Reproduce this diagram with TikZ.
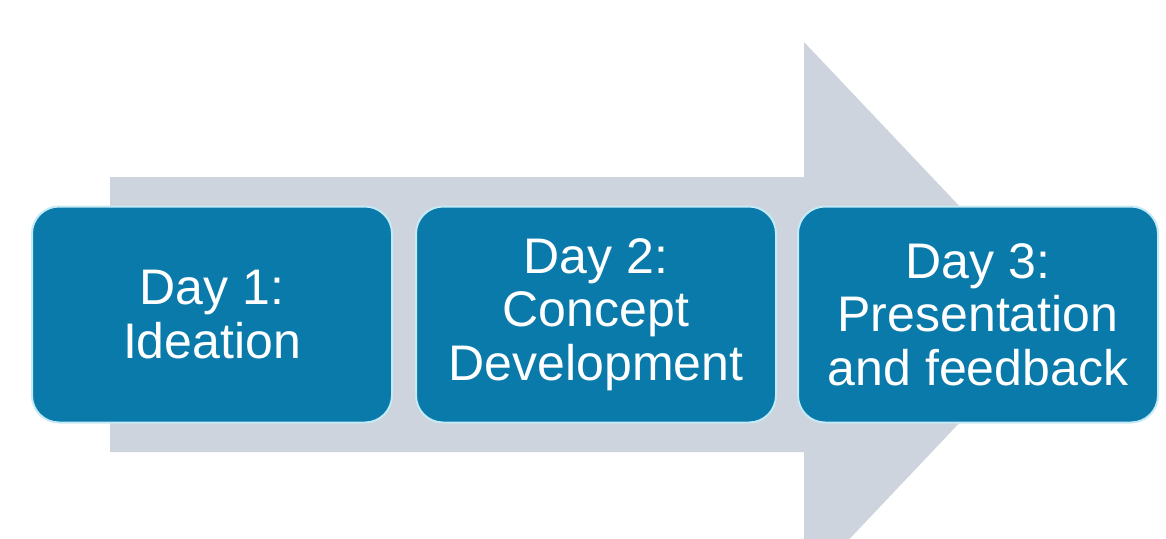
\documentclass[tikz,border=0pt]{standalone}
\usepackage{fontspec}
\usepackage{tikz}
\usepackage{xcolor}
\setmainfont{Liberation Sans}

\definecolor{daybox}{RGB}{10,122,170}
\definecolor{dayrim}{RGB}{196,234,246}
\definecolor{arrowgrey}{RGB}{205,212,221}

\begin{document}
\begin{tikzpicture}[x=0.5pt,y=-0.5pt,
  daystep/.style={draw=dayrim, line width=1pt, fill=daybox,
    rounded corners=13.5pt, minimum width=180pt, minimum height=108pt,
    inner sep=0pt, align=center, text=white,
    font=\fontsize{25}{26.8}\selectfont}]
\useasboundingbox (0,0) rectangle (1166,538);
\clip (0,0) rectangle (1166,538);
\fill[white] (0,0) rectangle (1166,538);

% big arrow behind the days
\coordinate (TailT) at ( 110,177);
\coordinate (NeckT) at ( 804,177);
\coordinate (HeadT) at ( 804, 42);
\coordinate (Tip)   at (1062,314.5);
\coordinate (HeadB) at ( 804,587);
\coordinate (NeckB) at ( 804,452);
\coordinate (TailB) at ( 110,452);
\fill[arrowgrey] (TailT) -- (NeckT) -- (HeadT) -- (Tip) -- (HeadB) -- (NeckB) -- (TailB) -- cycle;

\node[daystep] (D1) at (212,314.5) {Day 1:\\Ideation};
\node[daystep] (D2) at (596,314.5) {Day 2:\\Concept\\Development};
\node[daystep] (D3) at (978,314.5) {Day 3:\\Presentation\\and feedback};
\end{tikzpicture}
\end{document}
